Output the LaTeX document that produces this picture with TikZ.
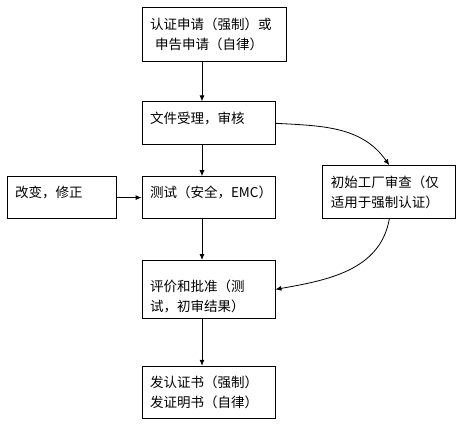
\documentclass[tikz,border=0pt]{standalone}
\usepackage{fontspec}
\setmainfont{Noto Sans CJK SC}
\usetikzlibrary{arrows.meta,positioning}

\begin{document}
\begin{tikzpicture}[
  x=1pt, y=1pt,
  box/.style={draw, line width=0.8pt, align=left, inner xsep=8pt, inner ysep=0pt,
    font=\fontsize{13.5pt}{20pt}\selectfont},
  oneline/.style={text depth=12pt},
  arrow/.style={-{Latex[length=6pt,width=5pt]}, line width=0.8pt}
]
\useasboundingbox (0,0) rectangle (469,-425);

\node[box, text width=128pt, minimum height=54pt] (apply) at (214,-34)
  {认证申请（强制）或\\\hspace*{5pt}申告申请（自律）};
\node[box, oneline, text width=117pt, minimum height=43pt,
  below=40pt of apply.south west, anchor=north west] (review) {文件受理，审核};
\node[box, oneline, text width=117pt, minimum height=42pt,
  below=31pt of review.south west, anchor=north west] (test) {测试（安全，EMC）};
\node[box, oneline, text width=93pt, minimum height=42pt, left=25pt of test] (modify) {改变，修正};
\node[box, text width=117pt, minimum height=53pt,
  right=47pt of test.south east, anchor=south west] (audit) {初始工厂审查（仅\\适用于强制认证）};
\node[box, text width=117pt, minimum height=58pt, text depth=7pt,
  below=41pt of test.south west, anchor=north west] (approve) {评价和批准（测\\试，初审结果）};
\node[box, text width=117pt, minimum height=52pt,
  below=47pt of approve.south west, anchor=north west] (issue) {发认证书（强制）\\发证明书（自律）};

% main line
\coordinate (spine) at (202,0);
\draw[arrow] (apply.south -| spine) -- (review.north -| spine);
\draw[arrow] (review.south -| spine) -- (test.north -| spine);
\draw[arrow] (test.south -| spine) -- (approve.north -| spine);
\draw[arrow] (approve.south -| spine) -- (issue.north -| spine);
\draw[arrow] (modify) -- (test);

% factory audit branch
\draw[arrow] (review.east) to[out=-3, in=125] (audit.north);
\draw[arrow] (audit.south) to[out=-100, in=10] (approve.east);
\end{tikzpicture}
\end{document}
